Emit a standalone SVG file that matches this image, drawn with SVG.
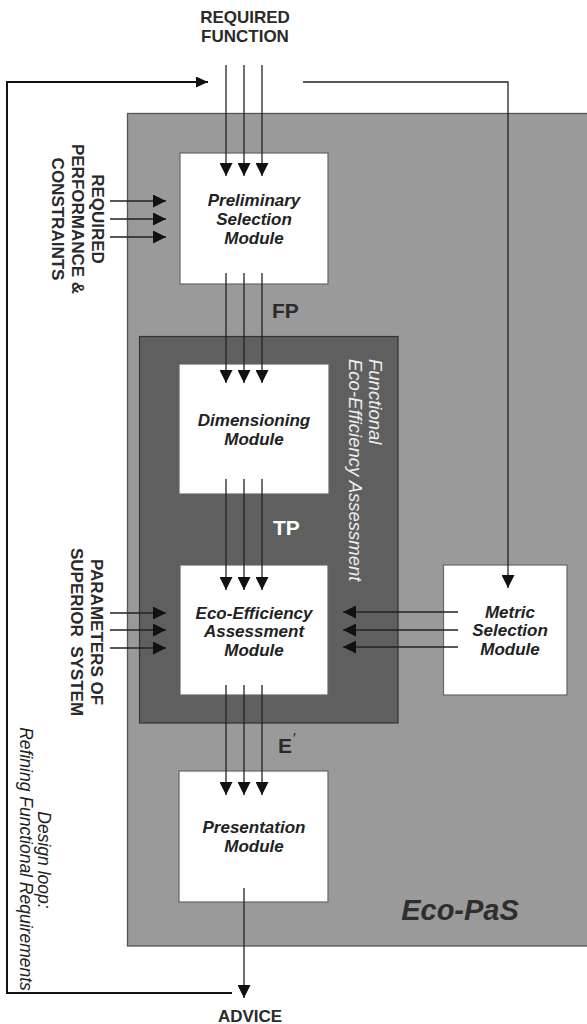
<svg xmlns="http://www.w3.org/2000/svg" width="587" height="1024" viewBox="0 0 587 1024">
<style>
.lbl{font-family:"Liberation Sans",Arial,sans-serif;font-weight:bold;font-size:17px;fill:#2a2a2a;text-anchor:middle}
.mod{font-family:"Liberation Sans",Arial,sans-serif;font-weight:bold;font-style:italic;font-size:17px;fill:#222;text-anchor:middle}
.box{fill:#fff;stroke:#666;stroke-width:1.2}
.big{font-family:"Liberation Sans",Arial,sans-serif;font-weight:bold;font-size:21px}
.con{fill:none;stroke:#222;stroke-width:1.3}
.it{font-family:"Liberation Sans",Arial,sans-serif;font-style:italic;font-size:17.5px}
</style>
<defs>
<marker id="ah" markerWidth="13" markerHeight="13" refX="13" refY="6.5" orient="auto" markerUnits="userSpaceOnUse"><path d="M0,0 L13,6.5 L0,13 z" fill="#111"/></marker>
<marker id="ahs" markerWidth="12" markerHeight="11" refX="12" refY="5.5" orient="auto" markerUnits="userSpaceOnUse"><path d="M0,0 L12,5.5 L0,11 z" fill="#111"/></marker>
</defs>
<rect width="587" height="1024" fill="#fff"/>
<g id="ecopas">
<rect x="127.5" y="113.5" width="470" height="832.5" fill="#9a9a9a" stroke="#555" stroke-width="1.3"/>
<text x="460" y="920" text-anchor="middle" font-family="Liberation Sans,Arial,sans-serif" font-weight="bold" font-style="italic" font-size="29" fill="#2e2e2e">Eco-PaS</text>
</g>
<g id="fea">
<rect x="139.5" y="336.5" width="258.5" height="386.5" fill="#5f5f5f" stroke="#333" stroke-width="1.2"/>
<g class="it" fill="#eee" style="font-size:18.5px">
<text transform="translate(375,359) rotate(90)" dominant-baseline="central">Functional</text>
<text transform="translate(355,359) rotate(90)" dominant-baseline="central">Eco-Efficiency Assessment</text>
</g>
</g>
<g id="prelim">
<rect class="box" x="180" y="153" width="148" height="131"/>
<text class="mod" x="254" y="206">Preliminary</text>
<text class="mod" x="254" y="225">Selection</text>
<text class="mod" x="254" y="244">Module</text>
</g>
<g id="dim">
<rect class="box" x="179" y="364" width="150" height="130"/>
<text class="mod" x="254" y="426">Dimensioning</text>
<text class="mod" x="254" y="445">Module</text>
</g>
<g id="eea">
<rect class="box" x="180" y="565" width="148" height="130"/>
<text class="mod" x="254" y="619">Eco-Efficiency</text>
<text class="mod" x="254" y="637">Assessment</text>
<text class="mod" x="254" y="656">Module</text>
</g>
<g id="metric">
<rect class="box" x="443.5" y="565" width="123.5" height="130"/>
<text class="mod" x="510" y="618">Metric</text>
<text class="mod" x="510" y="636">Selection</text>
<text class="mod" x="510" y="655">Module</text>
</g>
<g id="pres">
<rect class="box" x="179" y="771" width="149" height="131"/>
<text class="mod" x="254" y="833">Presentation</text>
<text class="mod" x="254" y="852">Module</text>
</g>
<g id="labels">
<text class="lbl" x="245" y="23">REQUIRED</text>
<text class="lbl" x="245" y="42">FUNCTION</text>
<text class="lbl" x="250" y="1022">ADVICE</text>
<g class="lbl">
<text transform="translate(97,219) rotate(90)" dominant-baseline="central">REQUIRED</text>
<text transform="translate(77,219) rotate(90)" dominant-baseline="central">PERFORMANCE &amp;</text>
<text transform="translate(57,219) rotate(90)" dominant-baseline="central">CONSTRAINTS</text>
<text transform="translate(96,632) rotate(90)" dominant-baseline="central">PARAMETERS OF</text>
<text transform="translate(76,632) rotate(90)" dominant-baseline="central" xml:space="preserve">SUPERIOR  SYSTEM</text>
</g>
<text class="big" x="272" y="318" fill="#2a2a2a">FP</text>
<text class="big" x="273" y="535" fill="#fff">TP</text>
<text class="big" x="278" y="753" fill="#2a2a2a">E</text>
<text x="293" y="743" font-family="Liberation Sans,Arial,sans-serif" font-size="15" fill="#2a2a2a">′</text>
<g class="it" fill="#222">
<text transform="translate(44,860) rotate(90)" dominant-baseline="central" text-anchor="middle">Design loop:</text>
<text transform="translate(26,859) rotate(90)" dominant-baseline="central" text-anchor="middle">Refining Functional Requirements</text>
</g>
</g>
<g id="connectors">
<path d="M232,993 H7 V82 H208" fill="none" stroke="#111" stroke-width="2" marker-end="url(#ahs)"/>
<path class="con" d="M303,82 H508 V588" marker-end="url(#ah)"/>
<path class="con" d="M226,65 V176" marker-end="url(#ah)"/>
<path class="con" d="M244,65 V176" marker-end="url(#ah)"/>
<path class="con" d="M262,65 V176" marker-end="url(#ah)"/>
<path class="con" d="M110,201 H166" marker-end="url(#ah)"/>
<path class="con" d="M110,219 H166" marker-end="url(#ah)"/>
<path class="con" d="M110,237 H166" marker-end="url(#ah)"/>
<path class="con" d="M226,273 V383" marker-end="url(#ah)"/>
<path class="con" d="M244,273 V383" marker-end="url(#ah)"/>
<path class="con" d="M262,273 V383" marker-end="url(#ah)"/>
<path class="con" d="M226,479 V590" marker-end="url(#ah)"/>
<path class="con" d="M244,479 V590" marker-end="url(#ah)"/>
<path class="con" d="M262,479 V590" marker-end="url(#ah)"/>
<path class="con" d="M110,613 H166" marker-end="url(#ah)"/>
<path class="con" d="M110,630 H166" marker-end="url(#ah)"/>
<path class="con" d="M110,648 H166" marker-end="url(#ah)"/>
<path class="con" d="M458,612 H343" marker-end="url(#ah)"/>
<path class="con" d="M458,630 H343" marker-end="url(#ah)"/>
<path class="con" d="M458,647 H343" marker-end="url(#ah)"/>
<path class="con" d="M226,685 V795" marker-end="url(#ah)"/>
<path class="con" d="M244,685 V795" marker-end="url(#ah)"/>
<path class="con" d="M262,685 V795" marker-end="url(#ah)"/>
<path class="con" d="M244,888 V998" marker-end="url(#ah)"/>
</g>
</svg>
